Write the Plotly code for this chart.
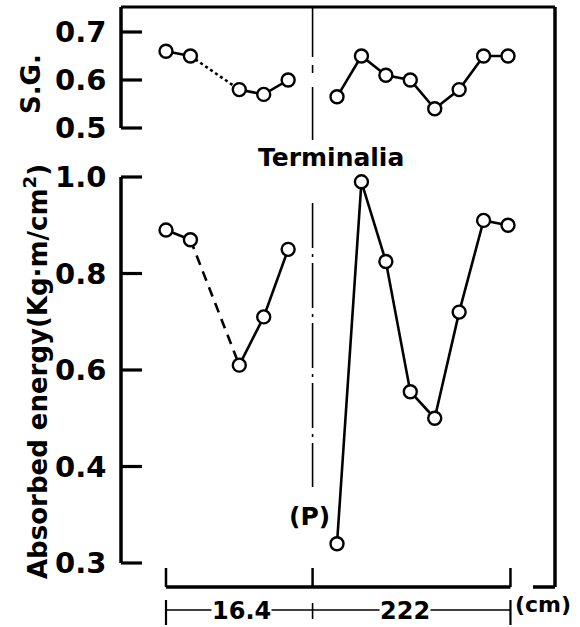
import plotly.graph_objects as go

# ---------------- data ----------------
x_left = [0, 1, 3, 4, 5]                     # specimen positions, left log (16.4 cm)
x_right = [7, 8, 9, 10, 11, 12, 13, 14]      # specimen positions, right log (222 cm)
divider_x = 6
axis_end_x = 14.1

sg_left = [0.66, 0.65, 0.58, 0.57, 0.60]
sg_right = [0.565, 0.65, 0.61, 0.60, 0.54, 0.58, 0.65, 0.65]

ae_left = [0.89, 0.87, 0.61, 0.71, 0.85]
ae_right = [0.32, 0.99, 0.825, 0.555, 0.50, 0.72, 0.91, 0.90]

sg_ticks = [0.5, 0.6, 0.7]
ae_ticks = [0.3, 0.4, 0.6, 0.8, 1.0]

# The energy axis of the original is broken below 0.4: the step 0.4 -> 0.3
# takes the same length as the 0.2 steps above it.
def ae_scale(v):
    return v if v >= 0.4 else 0.4 - (0.4 - v) * 2.0

ae_left_s = [ae_scale(v) for v in ae_left]
ae_right_s = [ae_scale(v) for v in ae_right]

# ---------------- layout geometry (whole page is the plotting area) ----------------
W, H = 580, 627
UNIT = 24.43                      # pixels per specimen step (x = 0 at pixel 166)
XP0 = 166


def xu(p):                        # pixel column -> x units
    return (p - XP0) / UNIT


def px(p):                        # pixel column -> paper x
    return p / W


def py(p):                        # pixel row -> paper y
    return (H - p) / H


# lower axis: 1.0 at row 177, 0.3 (scaled 0.2) at row 563
AE_PPU = (563 - 177) / (1.0 - ae_scale(0.3))
ae_range = [ae_scale(0.3) - (H - 563) / AE_PPU, 1.0 + 177 / AE_PPU]
# upper axis: 0.7 at row 32, 0.5 at row 128
SG_PPU = (128 - 32) / 0.2
sg_range = [0.5 - (H - 128) / SG_PPU, 0.7 + 32 / SG_PPU]

XA = xu(121)                      # value-axis line position
FONT = "DejaVu Sans"
LW = 2.6
MS = 13

fig = go.Figure()


def line(x, y, yaxis, dash="solid", w=LW):
    fig.add_trace(go.Scatter(x=x, y=y, yaxis=yaxis, mode="lines",
                             line=dict(color="black", width=w, dash=dash),
                             hoverinfo="skip", showlegend=False))


def marks(x, y, yaxis):
    fig.add_trace(go.Scatter(x=x, y=y, yaxis=yaxis, mode="markers",
                             cliponaxis=False,
                             marker=dict(symbol="circle", size=MS, color="white",
                                         line=dict(color="black", width=2.4)),
                             showlegend=False))


# value axes: lines and inward ticks
line([XA, XA], [ae_scale(ae_ticks[0]), ae_scale(ae_ticks[-1])], "y", w=3.5)
line([XA, XA], [sg_ticks[0], sg_ticks[-1]], "y2", w=3.5)
tick_len = 21 / UNIT
for v in ae_ticks:
    line([XA, XA + tick_len], [ae_scale(v)] * 2, "y", w=3.2)
for v in sg_ticks:
    line([XA, XA + tick_len], [v] * 2, "y2", w=3.2)

# S.G. panel (top)
line(x_left[:2], sg_left[:2], "y2")
line(x_left[1:3], sg_left[1:3], "y2", "dot")
line(x_left[2:], sg_left[2:], "y2")
line(x_right, sg_right, "y2")
marks(x_left + x_right, sg_left + sg_right, "y2")

# Absorbed energy panel (bottom)
line(x_left[:2], ae_left_s[:2], "y")
line(x_left[1:3], ae_left_s[1:3], "y", "10px,7px")
line(x_left[2:], ae_left_s[2:], "y")
line(x_right, ae_right_s, "y")
marks(x_left + x_right, ae_left_s + ae_right_s, "y")

fig.update_layout(
    width=W, height=H,
    margin=dict(l=0, r=0, t=0, b=0, autoexpand=False),
    paper_bgcolor="white", plot_bgcolor="white",
    showlegend=False,
    xaxis=dict(range=[xu(0), xu(W)], domain=[0, 1], visible=False),
    yaxis=dict(range=ae_range, domain=[0, 1], visible=False),
    yaxis2=dict(range=sg_range, domain=[0, 1], visible=False,
                overlaying="y", anchor="x"),
)

shapes = []


def seg(x0, y0, x1, y1, xref="paper", yref="paper", w=3.2, dash="solid"):
    shapes.append(dict(type="line", x0=x0, y0=y0, x1=x1, y1=y1, xref=xref,
                       yref=yref, line=dict(color="black", width=w, dash=dash)))


# frame
seg(px(121), py(32), px(121), py(7), w=3.5)
seg(px(121), py(7), px(555), py(7), w=3.2)
seg(px(555), py(7), px(555), py(587), w=3.5)
seg(px(533), py(587), px(555), py(587), w=3.5)

# x axis with upward ticks
seg(0, py(587), axis_end_x, py(587), xref="x", w=3.5)
for xv in (0, divider_x, axis_end_x):
    seg(xv, py(587), xv, py(568), xref="x", w=2.5)

# divider between the two logs
for a, b in ((8, 57), (65, 73), (87, 140)):
    seg(divider_x, py(a), divider_x, py(b), xref="x", w=1.6)
seg(divider_x, py(203), divider_x, py(487), xref="x", w=1.6, dash="45px,6px,3px,6px")

# dimension line under the axis
seg(0, py(610), axis_end_x, py(610), xref="x", w=1.3)
seg(0, py(600), 0, py(625), xref="x", w=2.2)
seg(axis_end_x, py(600), axis_end_x, py(625), xref="x", w=2.2)
seg(divider_x, py(603), divider_x, py(619), xref="x", w=1.6)

fig.update_layout(shapes=shapes)

ann = []
# tick labels
for v in ae_ticks:
    ann.append(dict(text=f"{v:.1f}", x=xu(107), y=ae_scale(v), xref="x", yref="y",
                    xanchor="right", font=dict(size=29)))
for v in sg_ticks:
    ann.append(dict(text=f"{v:.1f}", x=xu(107), y=v, xref="x", yref="y2",
                    xanchor="right", font=dict(size=29)))
# titles and labels
ann += [
    dict(text="S.G.", x=px(31), y=py(84), textangle=-90, font=dict(size=26)),
    dict(text="Absorbed energy(Kg·m/cm<sup>2</sup>)", x=px(36), y=py(372),
         textangle=-90, font=dict(size=26)),
    dict(text="Terminalia", x=px(331), y=py(157), font=dict(size=25)),
    dict(text="(P)", x=px(309), y=py(516), font=dict(size=25)),
    dict(text="16.4", x=px(241), y=py(611), font=dict(size=24), bgcolor="white"),
    dict(text="222", x=px(405), y=py(611), font=dict(size=24), bgcolor="white"),
    dict(text="(cm)", x=px(543), y=py(604), font=dict(size=22)),
]
for a in ann:
    a.setdefault("xref", "paper")
    a.setdefault("yref", "paper")
    a.setdefault("xanchor", "center")
    a["showarrow"] = False
    a["font"] = dict(family=FONT, color="black", weight="bold", **a["font"])
    a["yanchor"] = "middle"
    a["borderpad"] = 0
fig.update_layout(annotations=ann)

fig.write_html("out.html")
